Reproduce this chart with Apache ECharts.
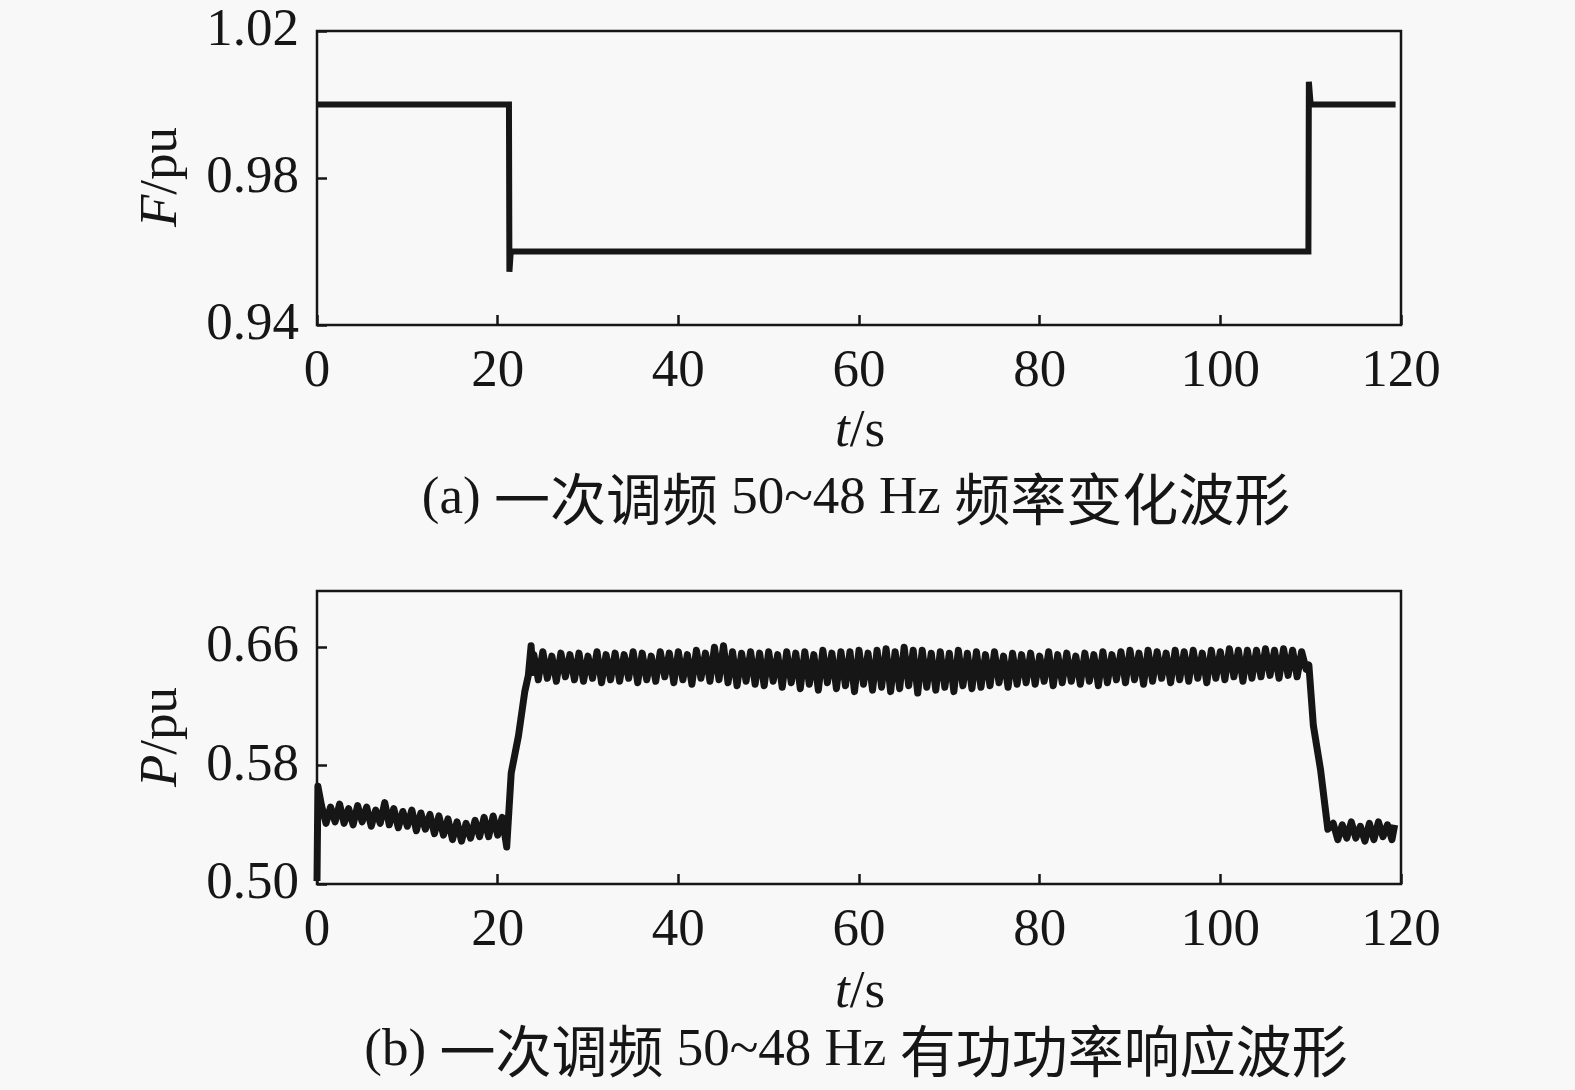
<!DOCTYPE html>
<html>
<head>
<meta charset="utf-8">
<script src="https://cdn.jsdelivr.net/npm/echarts@6/dist/echarts.min.js"></script>
<style>
  html, body { margin: 0; padding: 0; background: #f8f8f8; }
  #chart { width: 1575px; height: 1090px; }
</style>
</head>
<body>
<div id="chart"></div>
<script>
// ---------------- data ----------------
const xTicks = [0, 20, 40, 60, 80, 100, 120];
const fTickLabels = ['0.94', '0.98', '1.02'];
const pTickLabels = ['0.50', '0.58', '0.66'];

// (a) frequency waveform: [t (s), F (pu)]
const fTimes  = [0, 21.25, 21.3, 21.45, 109.75, 109.8, 110.0, 119.4];
const fValues = [1.0, 1.0, 0.9545, 0.96, 0.96, 1.0062, 1.0, 1.0];

// (b) active power waveform
const pStep = 0.5;
const pHead = [[0, 0.502], [0.1, 0.566]];
const pPreStart = 0.5;
const pPre = [
  0.553, 0.541, 0.552, 0.542, 0.554, 0.541, 0.551, 0.540, 0.553, 0.542,
  0.552, 0.539, 0.550, 0.541, 0.555, 0.540, 0.551, 0.538, 0.549, 0.539,
  0.550, 0.536, 0.548, 0.537, 0.547, 0.534, 0.546, 0.533, 0.544, 0.530,
  0.542, 0.529, 0.541, 0.531, 0.543, 0.532, 0.545, 0.532, 0.546, 0.533,
  0.545, 0.525
];
const pRampUp = [[21.2, 0.545], [21.5, 0.575], [22.3, 0.600], [23.0, 0.630], [23.4, 0.641], [23.7, 0.661], [23.9, 0.643]];
const pPlateauStart = 24.0;
const pPlateau = [
  0.655, 0.638, 0.657, 0.639, 0.654, 0.637, 0.656, 0.640, 0.655, 0.638,
  0.656, 0.637, 0.654, 0.639, 0.657, 0.636, 0.655, 0.638, 0.656, 0.637,
  0.655, 0.639, 0.657, 0.636, 0.656, 0.638, 0.654, 0.637, 0.657, 0.640,
  0.656, 0.636, 0.657, 0.638, 0.655, 0.635, 0.658, 0.639, 0.656, 0.637,
  0.660, 0.638, 0.661, 0.636, 0.657, 0.634, 0.656, 0.637, 0.657, 0.635,
  0.656, 0.634, 0.657, 0.637, 0.655, 0.633, 0.657, 0.636, 0.656, 0.632,
  0.657, 0.635, 0.655, 0.631, 0.658, 0.636, 0.656, 0.632, 0.657, 0.634,
  0.657, 0.630, 0.658, 0.635, 0.656, 0.631, 0.658, 0.633, 0.659, 0.630,
  0.657, 0.632, 0.660, 0.634, 0.658, 0.629, 0.658, 0.633, 0.656, 0.631,
  0.657, 0.633, 0.656, 0.630, 0.658, 0.634, 0.656, 0.632, 0.657, 0.633,
  0.655, 0.634, 0.657, 0.636, 0.654, 0.633, 0.656, 0.635, 0.655, 0.636,
  0.656, 0.635, 0.654, 0.637, 0.657, 0.634, 0.655, 0.636, 0.656, 0.637,
  0.654, 0.635, 0.656, 0.637, 0.655, 0.634, 0.657, 0.636, 0.655, 0.638,
  0.657, 0.636, 0.658, 0.638, 0.656, 0.635, 0.658, 0.637, 0.657, 0.639,
  0.656, 0.636, 0.658, 0.638, 0.657, 0.637, 0.658, 0.639, 0.656, 0.636,
  0.658, 0.639, 0.657, 0.638, 0.659, 0.640, 0.658, 0.637, 0.658, 0.639,
  0.658, 0.640, 0.659, 0.641, 0.658, 0.639, 0.659, 0.641, 0.658, 0.640,
  0.657, 0.645
];
const pRampDown = [[109.8, 0.648], [110.3, 0.607], [111.1, 0.577], [111.9, 0.537]];
const pPostStart = 112.5;
const pPost = [0.541, 0.530, 0.540, 0.531, 0.542, 0.531, 0.539, 0.529, 0.541, 0.530, 0.542, 0.532, 0.540, 0.530];
const pTail = [[119.3, 0.540]];

// ---------------- build ----------------
const fData = fTimes.map((t, i) => [t, fValues[i]]);
const seg = (start, arr) => arr.map((v, i) => [start + i * pStep, v]);
const pData = [].concat(pHead, seg(pPreStart, pPre), pRampUp, seg(pPlateauStart, pPlateau), pRampDown, seg(pPostStart, pPost), pTail);

const INK = '#161616';
const SERIF = '"Liberation Serif", "Times New Roman", serif';
const CJK = '"Noto Sans CJK SC", sans-serif';
const FS = 53;

function xAxisCfg(gridIndex) {
  return {
    gridIndex, type: 'value', min: 0, max: 120, interval: 20,
    axisLine: { show: false },
    axisTick: { show: true, inside: true, length: 10, lineStyle: { color: INK, width: 2.5 } },
    splitLine: { show: false },
    axisLabel: { fontSize: FS, fontFamily: SERIF, color: INK, margin: 21,
      formatter: v => xTicks.includes(Math.round(v)) ? String(Math.round(v)) : '' }
  };
}
function yAxisCfg(gridIndex, min, max, interval, labels, showMax) {
  return {
    gridIndex, type: 'value', min, max, interval,
    axisLine: { show: false },
    axisTick: { show: true, inside: true, length: 10, lineStyle: { color: INK, width: 2.5 } },
    splitLine: { show: false },
    axisLabel: { fontSize: FS, fontFamily: SERIF, color: INK, margin: 18, showMaxLabel: showMax,
      formatter: v => { const s = v.toFixed(2); return labels.includes(s) ? s : ''; } }
  };
}
function label(x, y, text, rot) {
  return {
    type: 'text', x, y, rotation: rot || 0,
    style: {
      text, align: 'center', verticalAlign: 'middle',
      fontSize: FS, fontFamily: SERIF, fill: INK,
      rich: {
        i: { fontStyle: 'italic', fontSize: FS, fontFamily: SERIF, fill: INK },
        n: { fontSize: FS, fontFamily: SERIF, fill: INK }
      }
    }
  };
}
function caption(x, y, text) {
  return {
    type: 'text', x, y,
    style: {
      text, align: 'center', verticalAlign: 'middle', fontSize: 52, fontFamily: SERIF, fill: INK,
      rich: {
        l: { fontSize: 53, fontFamily: SERIF, fill: INK },
        c: { fontSize: 56, fontFamily: CJK, fill: INK }
      }
    }
  };
}

const chart = echarts.init(document.getElementById('chart'), null, { renderer: 'canvas' });
chart.setOption({
  animation: false,
  backgroundColor: '#f8f8f8',
  grid: [
    { left: 317, top: 31, width: 1084, height: 294, show: true, borderColor: INK, borderWidth: 2.5, backgroundColor: 'transparent' },
    { left: 317, top: 591, width: 1084, height: 293, show: true, borderColor: INK, borderWidth: 2.5, backgroundColor: 'transparent' }
  ],
  xAxis: [xAxisCfg(0), xAxisCfg(1)],
  yAxis: [
    yAxisCfg(0, 0.94, 1.02, 0.04, fTickLabels, true),
    yAxisCfg(1, 0.50, 0.698, 0.08, pTickLabels, false)
  ],
  series: [
    { type: 'line', xAxisIndex: 0, yAxisIndex: 0, data: fData, showSymbol: false,
      lineStyle: { color: INK, width: 6, join: 'miter' } },
    { type: 'line', xAxisIndex: 1, yAxisIndex: 1, data: pData, showSymbol: false,
      lineStyle: { color: INK, width: 7, join: 'round' } }
  ],
  graphic: [
    label(162, 177, '{i|F}{n|/pu}', Math.PI / 2),
    label(162, 737, '{i|P}{n|/pu}', Math.PI / 2),
    label(860, 432, '{i|t}{n|/s}'),
    label(860, 993, '{i|t}{n|/s}'),
    caption(856, 499, '{l|(a) }{c|一次调频}{l| 50~48 Hz }{c|频率变化波形}'),
    caption(856, 1051, '{l|(b) }{c|一次调频}{l| 50~48 Hz }{c|有功功率响应波形}')
  ]
});
</script>
</body>
</html>
